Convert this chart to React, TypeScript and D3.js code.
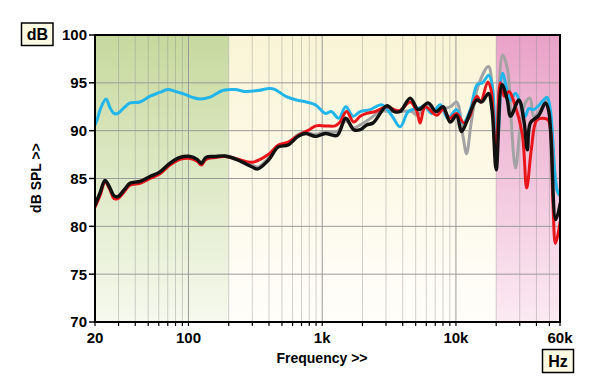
import React from 'react';
import * as d3 from 'd3';

type Pt = [number, number];

// frequency (Hz), level (dB SPL)
const blueData: Pt[] = [
  [20, 90.6], [20.7, 91.1], [22, 92.3], [24.2, 93.3], [25.9, 92.4], [27.7, 91.8], [29.6, 91.8],
  [33, 92.4], [36.5, 92.9], [43.4, 93.0], [51.6, 93.6], [61, 94.0], [70, 94.3], [80, 94.1],
  [94, 93.8], [106, 93.5], [122, 93.3], [145, 93.5], [180, 94.2], [223, 94.3], [265, 94.1],
  [333, 94.2], [400, 94.4], [437, 94.35], [540, 93.55], [642, 93.2], [760, 93.0], [890, 92.7],
  [1055, 91.8], [1170, 92.0], [1330, 91.3], [1500, 92.5], [1700, 91.5], [1923, 92.0],
  [2284, 92.2], [2800, 92.7], [3340, 91.5], [3830, 90.4], [4400, 92.0], [5100, 92.3],
  [5860, 92.5], [6600, 91.8], [7630, 92.7], [8700, 91.3], [10100, 92.2], [11300, 90.8],
  [12800, 92.2], [14400, 94.8], [15800, 95.0], [17600, 95.8], [18800, 94.4], [19900, 88.3],
  [20700, 89.6], [22300, 96.0], [24400, 93.9], [25500, 93.2], [27900, 93.9], [30300, 92.9],
  [33000, 91.5], [35000, 92.3], [38200, 92.2], [44000, 93.0], [48000, 93.5], [50800, 92.2],
  [57000, 83.8], [60300, 83.2],
];

const grayData: Pt[] = [
  [20, 82.2], [21.8, 83.5], [23.8, 84.8], [25.9, 84.0], [27.7, 83.2], [29.6, 83.1], [33, 83.8],
  [36.5, 84.5], [43.4, 84.7], [51.6, 85.2], [61.3, 85.7], [72.8, 86.6], [86.5, 87.2],
  [102.8, 87.3], [116, 87.0], [125, 86.6], [135, 87.2], [158, 87.3], [188, 87.35], [237, 87.0],
  [300, 86.4], [330, 86.2], [395, 87.1], [470, 88.4], [556, 88.7], [660, 89.6], [750, 89.8],
  [890, 89.6], [1055, 89.9], [1290, 89.9], [1500, 91.0], [1720, 90.3], [1923, 90.6],
  [2300, 91.3], [2700, 92.0], [3300, 92.0], [3830, 92.0], [4700, 92.0], [5100, 91.6],
  [6200, 92.7], [7100, 92.0], [8000, 92.3], [9100, 92.5], [10100, 93.0], [11300, 89.4],
  [12000, 87.6], [13000, 90.8], [14600, 94.6], [17500, 96.7], [18600, 95.0], [19900, 88.8],
  [22300, 97.9], [24400, 96.3], [25500, 92.5], [27900, 86.1], [30300, 90.4], [33000, 92.9],
  [35800, 93.4], [38200, 91.5], [42700, 92.2], [48000, 93.2], [51500, 90.8], [57000, 83.8],
  [60300, 83.1],
];

const redData: Pt[] = [
  [20, 82.0], [21.8, 83.2], [23.8, 84.6], [25.9, 83.8], [27.7, 82.9], [29.6, 82.9], [33, 83.6],
  [36.5, 84.3], [43.4, 84.5], [51.6, 85.0], [61.3, 85.5], [72.8, 86.4], [86.5, 87.0],
  [102.8, 87.1], [116, 86.8], [125, 86.4], [135, 87.0], [158, 87.2], [188, 87.3], [237, 87.0],
  [300, 86.7], [395, 87.5], [470, 88.5], [556, 88.8], [660, 89.5], [800, 90.1], [900, 90.5],
  [1055, 90.5], [1250, 90.5], [1360, 90.9], [1520, 92.0], [1720, 90.9], [1923, 91.5],
  [2150, 91.8], [2500, 92.0], [3050, 92.5], [3460, 92.2], [3800, 92.1], [4550, 93.0],
  [5100, 92.0], [5400, 90.8], [5900, 92.5], [7200, 91.6], [8000, 92.2], [9000, 91.3],
  [10100, 91.8], [11500, 90.8], [12800, 91.6], [13500, 92.9], [14400, 93.6], [15300, 93.0],
  [17300, 95.1], [18300, 94.3], [19900, 86.9], [21500, 95.0], [23000, 93.6], [25000, 94.1],
  [27300, 92.9], [31300, 89.7], [33800, 84.0], [36600, 88.0], [40200, 91.1], [45200, 91.3],
  [49000, 91.1], [53000, 82.8], [55500, 78.2], [60300, 80.5],
];

const blackData: Pt[] = [
  [20, 82.2], [21.8, 83.5], [23.8, 84.8], [25.9, 84.0], [27.7, 83.2], [29.6, 83.1], [33, 83.8],
  [36.5, 84.5], [43.4, 84.7], [51.6, 85.2], [61.3, 85.7], [72.8, 86.6], [86.5, 87.2],
  [102.8, 87.3], [116, 87.0], [125, 86.6], [135, 87.2], [158, 87.3], [188, 87.35], [237, 86.9],
  [300, 86.2], [330, 86.0], [395, 86.9], [470, 88.3], [556, 88.5], [660, 89.4], [750, 89.7],
  [890, 89.4], [1055, 89.7], [1290, 89.5], [1500, 91.3], [1720, 90.1], [1923, 90.1],
  [2150, 90.6], [2400, 90.8], [3050, 92.6], [3460, 92.0], [3830, 92.0], [4550, 93.4],
  [5240, 92.2], [6200, 92.9], [7100, 92.0], [8000, 92.5], [9060, 90.9], [10100, 91.6],
  [11000, 89.9], [12000, 90.9], [13100, 92.3], [14300, 93.2], [15600, 93.0], [17500, 93.9],
  [18600, 92.2], [20000, 85.9], [22100, 94.8], [24200, 93.2], [25600, 91.5], [29500, 93.2],
  [32200, 91.1], [34200, 88.0], [36000, 90.8], [41600, 91.6], [46700, 92.9], [49500, 92.0],
  [55800, 80.7], [60300, 82.4],
];

const yTicks = [70, 75, 80, 85, 90, 95, 100];
const xLabelFreqs = [20, 100, 1000, 10000, 60000];
const xLabelText = ['20', '100', '1k', '10k', '60k'];
const decadeLines = [100, 1000, 10000];
const bandEdges = [20, 200, 20000, 60000];

const W = 600;
const H = 389;
const L = 95;
const R = 560;
const T = 35;
const B = 322;

const font = 'Liberation Sans, Arial, sans-serif';

const x = d3.scaleLog().domain([20, 60000]).range([L, R]);
const y = d3.scaleLinear().domain([70, 100]).range([B, T]);

const minorFreqs: number[] = [];
[10, 100, 1000, 10000].forEach((dec) => {
  for (let m = 1; m <= 9; m++) {
    const f = m * dec;
    if (f > 20 && f < 60000 && !decadeLines.includes(f)) minorFreqs.push(f);
  }
});

const line = d3
  .line<Pt>()
  .x((d) => x(d[0]))
  .y((d) => y(d[1]))
  .curve(d3.curveCatmullRom.alpha(0.5));

const series = [
  { data: grayData, color: '#a3a3a3', width: 3 },
  { data: blueData, color: '#22b5e9', width: 3 },
  { data: redData, color: '#e8151b', width: 3 },
  { data: blackData, color: '#111111', width: 3.4 },
];

const bandFills = ['url(#gGreen)', 'url(#gCream)', 'url(#gPink)'];

const App: React.FC = () => {
  return (
    <svg width={W} height={H} style={{ position: 'absolute', left: 0, top: 0 }}>
      <defs>
        <linearGradient id="gGreen" x1="0" y1="0" x2="0" y2="1">
          <stop offset="0" stopColor="#c6d99e" />
          <stop offset="1" stopColor="#f6f9ee" />
        </linearGradient>
        <linearGradient id="gCream" x1="0" y1="0" x2="0" y2="1">
          <stop offset="0" stopColor="#faf4d6" />
          <stop offset="1" stopColor="#fffefa" />
        </linearGradient>
        <linearGradient id="gPink" x1="0" y1="0" x2="0" y2="1">
          <stop offset="0" stopColor="#e9a2c8" />
          <stop offset="1" stopColor="#fbeaf2" />
        </linearGradient>
        <clipPath id="plotClip">
          <rect x={L} y={T} width={R - L} height={B - T} />
        </clipPath>
      </defs>

      {bandEdges.slice(0, -1).map((f, i) => (
        <rect
          key={f}
          x={x(f)}
          y={T}
          width={x(bandEdges[i + 1]) - x(f)}
          height={B - T}
          fill={bandFills[i]}
        />
      ))}

      {minorFreqs.map((f) => (
        <line key={f} x1={x(f)} x2={x(f)} y1={T} y2={B} stroke="rgba(140,140,140,0.4)" strokeWidth={1} />
      ))}
      {decadeLines.map((f) => (
        <line key={f} x1={x(f)} x2={x(f)} y1={T} y2={B} stroke="#9a9a9a" strokeWidth={1} />
      ))}
      {yTicks.slice(1, -1).map((v) => (
        <line key={v} x1={L} x2={R} y1={y(v)} y2={y(v)} stroke="#9a9a9a" strokeWidth={1} />
      ))}

      <g clipPath="url(#plotClip)" fill="none" strokeLinejoin="round" strokeLinecap="round">
        {series.map((s, i) => (
          <path key={i} d={line(s.data) ?? ''} stroke={s.color} strokeWidth={s.width} />
        ))}
      </g>

      <rect x={L} y={T} width={R - L} height={B - T} fill="none" stroke="#000" strokeWidth={2} />

      {yTicks.map((v) => (
        <g key={v}>
          <line x1={L - 6} x2={L} y1={y(v)} y2={y(v)} stroke="#000" strokeWidth={1.5} />
          <text
            x={L - 8}
            y={y(v)}
            dy="0.36em"
            textAnchor="end"
            fontFamily={font}
            fontWeight="bold"
            fontSize={15}
          >
            {v}
          </text>
        </g>
      ))}

      {[...minorFreqs, ...decadeLines, 20, 60000].map((f) => (
        <line key={f} x1={x(f)} x2={x(f)} y1={B} y2={B + 4} stroke="#000" strokeWidth={1.2} />
      ))}
      {xLabelFreqs.map((f, i) => (
        <text
          key={f}
          x={x(f)}
          y={343}
          textAnchor="middle"
          fontFamily={font}
          fontWeight="bold"
          fontSize={15}
        >
          {xLabelText[i]}
        </text>
      ))}

      <text x={322} y={363} textAnchor="middle" fontFamily={font} fontWeight="bold" fontSize={14}>
        Frequency &gt;&gt;
      </text>
      <text
        transform="translate(41,178) rotate(-90)"
        textAnchor="middle"
        fontFamily={font}
        fontWeight="bold"
        fontSize={14}
      >
        dB SPL &gt;&gt;
      </text>

      <rect x={21.5} y={23} width={31.5} height={22.5} fill="#fcfae2" stroke="#000" strokeWidth={1.5} />
      <text x={37.3} y={40} textAnchor="middle" fontFamily={font} fontWeight="bold" fontSize={16}>
        dB
      </text>
      <rect x={542.5} y={349.5} width={31} height={23} fill="#fcfae2" stroke="#000" strokeWidth={1.5} />
      <text x={558} y={367} textAnchor="middle" fontFamily={font} fontWeight="bold" fontSize={16}>
        Hz
      </text>
    </svg>
  );
};

export default App;
